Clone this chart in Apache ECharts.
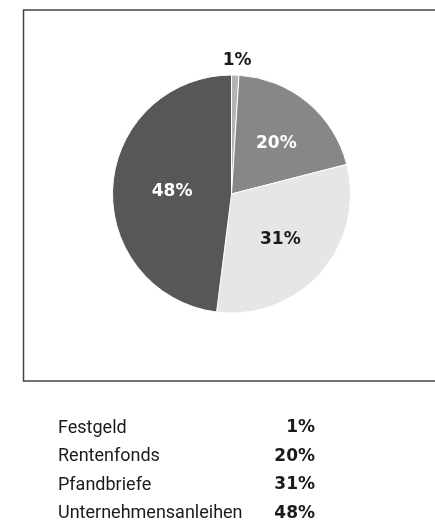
<!DOCTYPE html>
<html>
<head>
<meta charset="utf-8">
<script src="https://cdn.jsdelivr.net/npm/echarts@6/dist/echarts.min.js"></script>
<style>html,body{margin:0;padding:0;background:#fff;}#c{width:435px;height:522px;}</style>
</head>
<body>
<div id="c"></div>
<script>
const categories = ['Festgeld', 'Rentenfonds', 'Pfandbriefe', 'Unternehmensanleihen'];
const values = [1, 20, 31, 48];
const sliceColors = ['#b3b3b3', '#878787', '#e6e6e6', '#575757'];
const labelColors = ['#1a1a1a', '#ffffff', '#1a1a1a', '#ffffff'];

const FONT = 'Roboto';
const BOLD_FONT = 'DejaVu Sans';
const labelTweaks = [
  { position: 'outside', offset: [-18, 0] },
  { position: 'inside', offset: [5, -2] },
  { position: 'inside', offset: [2, 4] },
  { position: 'inside', offset: [3, 2] }
];

const data = categories.map((name, i) => ({
  name: name,
  value: values[i],
  itemStyle: { color: sliceColors[i] },
  label: Object.assign({ color: labelColors[i] }, labelTweaks[i]),
  labelLine: { show: false, length: 14, length2: 0 }
}));

const chart = echarts.init(document.getElementById('c'), null, { renderer: 'canvas' });
chart.setOption({
  backgroundColor: '#ffffff',
  animation: false,
  graphic: [{
    type: 'rect',
    shape: { x: 23.5, y: 10, width: 500, height: 371 },
    style: { fill: 'none', stroke: '#444444', lineWidth: 1.5 },
    silent: true
  }],
  legend: {
    orient: 'vertical',
    left: 48,
    top: 414,
    height: 300,
    padding: 5,
    icon: 'none',
    itemWidth: 0,
    itemHeight: 18,
    itemGap: 10.5,
    selectedMode: false,
    data: categories,
    formatter: function (name) {
      const i = categories.indexOf(name);
      return '{n|' + name + '}{v|' + values[i] + '%}';
    },
    textStyle: {
      rich: {
        n: { fontFamily: FONT, fontSize: 18, color: '#1a1a1a', width: 204, lineHeight: 18 },
        v: { fontFamily: BOLD_FONT, fontSize: 17, fontWeight: 'bold', color: '#1a1a1a', width: 53, align: 'right', lineHeight: 18 }
      }
    }
  },
  series: [{
    type: 'pie',
    center: [231.5, 194],
    radius: 119,
    startAngle: 90,
    clockwise: true,
    avoidLabelOverlap: false,
    itemStyle: { borderColor: '#ffffff', borderWidth: 1 },
    label: {
      show: true,
      formatter: '{c}%',
      fontFamily: BOLD_FONT,
      fontSize: 17,
      fontWeight: 'bold'
    },
    emphasis: { disabled: true },
    data: data
  }]
});
</script>
</body>
</html>
